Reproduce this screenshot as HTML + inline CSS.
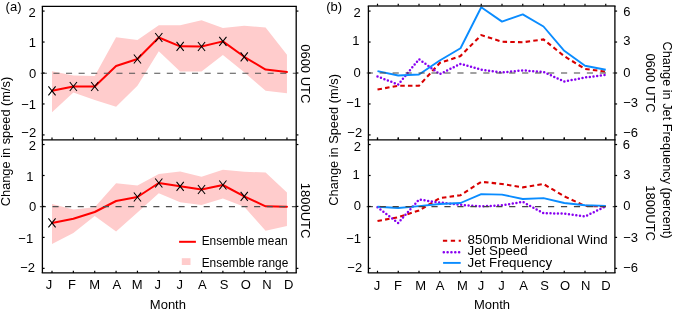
<!DOCTYPE html>
<html><head><meta charset="utf-8"><style>
html,body{margin:0;padding:0;background:#fff;width:675px;height:313px;overflow:hidden}
svg{display:block;will-change:transform}
text{font-family:"Liberation Sans", sans-serif;fill:#000}
</style></head><body>
<svg width="675" height="313" viewBox="0 0 675 313">
<rect width="675" height="313" fill="#fff"/>
<polygon fill="#ffcccc" points="52.00,71.20 73.36,75.50 94.72,76.00 116.08,37.20 137.44,40.00 158.80,25.20 180.16,25.20 201.52,20.20 222.88,27.90 244.24,25.80 265.60,27.40 286.96,54.80 286.96,93.20 265.60,90.70 244.24,72.30 222.88,55.00 201.52,71.40 180.16,71.40 158.80,51.30 137.44,85.80 116.08,106.70 94.72,100.00 73.36,92.60 52.00,112.30"/>
<polyline fill="none" stroke="#ff0000" stroke-width="2" stroke-linejoin="round" stroke-linecap="round" points="52.00,90.80 73.36,86.50 94.72,86.50 116.08,66.00 137.44,59.00 158.80,37.50 180.16,46.30 201.52,46.50 222.88,41.40 244.24,56.80 265.60,69.60 286.96,72.00"/>
<line x1="40.8" y1="73.2" x2="296.2" y2="73.2" stroke="#505050" stroke-width="1.1" stroke-dasharray="6.1 6.5"/>
<path d="M48.40 86.30L55.60 95.30M48.40 95.30L55.60 86.30" stroke="#000" stroke-width="1.05"/>
<path d="M69.76 82.00L76.96 91.00M69.76 91.00L76.96 82.00" stroke="#000" stroke-width="1.05"/>
<path d="M91.12 82.00L98.32 91.00M91.12 91.00L98.32 82.00" stroke="#000" stroke-width="1.05"/>
<path d="M133.84 54.50L141.04 63.50M133.84 63.50L141.04 54.50" stroke="#000" stroke-width="1.05"/>
<path d="M155.20 33.00L162.40 42.00M155.20 42.00L162.40 33.00" stroke="#000" stroke-width="1.05"/>
<path d="M176.56 41.80L183.76 50.80M176.56 50.80L183.76 41.80" stroke="#000" stroke-width="1.05"/>
<path d="M197.92 42.00L205.12 51.00M197.92 51.00L205.12 42.00" stroke="#000" stroke-width="1.05"/>
<path d="M219.28 36.90L226.48 45.90M219.28 45.90L226.48 36.90" stroke="#000" stroke-width="1.05"/>
<path d="M240.64 52.30L247.84 61.30M240.64 61.30L247.84 52.30" stroke="#000" stroke-width="1.05"/>
<line x1="42.40" y1="11.08" x2="44.60" y2="11.08" stroke="#000" stroke-width="1.2"/>
<line x1="296.20" y1="11.08" x2="298.40" y2="11.08" stroke="#000" stroke-width="1.2"/>
<line x1="42.40" y1="42.04" x2="44.60" y2="42.04" stroke="#000" stroke-width="1.2"/>
<line x1="42.40" y1="73.00" x2="44.60" y2="73.00" stroke="#000" stroke-width="1.2"/>
<line x1="296.20" y1="73.00" x2="298.40" y2="73.00" stroke="#000" stroke-width="1.2"/>
<line x1="42.40" y1="103.96" x2="44.60" y2="103.96" stroke="#000" stroke-width="1.2"/>
<line x1="42.40" y1="134.92" x2="44.60" y2="134.92" stroke="#000" stroke-width="1.2"/>
<line x1="296.20" y1="134.92" x2="298.40" y2="134.92" stroke="#000" stroke-width="1.2"/>
<line x1="52.00" y1="139.80" x2="52.00" y2="137.60" stroke="#000" stroke-width="1.2"/>
<line x1="73.36" y1="139.80" x2="73.36" y2="137.60" stroke="#000" stroke-width="1.2"/>
<line x1="94.72" y1="139.80" x2="94.72" y2="137.60" stroke="#000" stroke-width="1.2"/>
<line x1="116.08" y1="139.80" x2="116.08" y2="137.60" stroke="#000" stroke-width="1.2"/>
<line x1="137.44" y1="139.80" x2="137.44" y2="137.60" stroke="#000" stroke-width="1.2"/>
<line x1="158.80" y1="139.80" x2="158.80" y2="137.60" stroke="#000" stroke-width="1.2"/>
<line x1="180.16" y1="139.80" x2="180.16" y2="137.60" stroke="#000" stroke-width="1.2"/>
<line x1="201.52" y1="139.80" x2="201.52" y2="137.60" stroke="#000" stroke-width="1.2"/>
<line x1="222.88" y1="139.80" x2="222.88" y2="137.60" stroke="#000" stroke-width="1.2"/>
<line x1="244.24" y1="139.80" x2="244.24" y2="137.60" stroke="#000" stroke-width="1.2"/>
<line x1="265.60" y1="139.80" x2="265.60" y2="137.60" stroke="#000" stroke-width="1.2"/>
<line x1="286.96" y1="139.80" x2="286.96" y2="137.60" stroke="#000" stroke-width="1.2"/>
<polygon fill="#ffcccc" points="52.00,204.00 73.36,209.60 94.72,207.20 116.08,183.20 137.44,185.60 158.80,174.10 180.16,171.60 201.52,176.70 222.88,169.80 244.24,171.70 265.60,172.50 286.96,192.40 286.96,226.00 265.60,230.70 244.24,206.80 222.88,198.60 201.52,204.90 180.16,202.30 158.80,193.20 137.44,212.40 116.08,231.50 94.72,216.00 73.36,232.90 52.00,244.00"/>
<polyline fill="none" stroke="#ff0000" stroke-width="2" stroke-linejoin="round" stroke-linecap="round" points="52.00,222.90 73.36,218.80 94.72,212.00 116.08,201.00 137.44,197.00 158.80,183.00 180.16,186.30 201.52,189.50 222.88,185.00 244.24,196.30 265.60,206.30 286.96,206.80"/>
<line x1="39.9" y1="206.6" x2="296.2" y2="206.6" stroke="#505050" stroke-width="1.1" stroke-dasharray="6.1 6.5"/>
<path d="M48.40 218.40L55.60 227.40M48.40 227.40L55.60 218.40" stroke="#000" stroke-width="1.05"/>
<path d="M133.84 192.50L141.04 201.50M133.84 201.50L141.04 192.50" stroke="#000" stroke-width="1.05"/>
<path d="M155.20 178.50L162.40 187.50M155.20 187.50L162.40 178.50" stroke="#000" stroke-width="1.05"/>
<path d="M176.56 181.80L183.76 190.80M176.56 190.80L183.76 181.80" stroke="#000" stroke-width="1.05"/>
<path d="M197.92 185.00L205.12 194.00M197.92 194.00L205.12 185.00" stroke="#000" stroke-width="1.05"/>
<path d="M219.28 180.50L226.48 189.50M219.28 189.50L226.48 180.50" stroke="#000" stroke-width="1.05"/>
<path d="M240.64 191.80L247.84 200.80M240.64 200.80L247.84 191.80" stroke="#000" stroke-width="1.05"/>
<line x1="42.40" y1="144.53" x2="44.60" y2="144.53" stroke="#000" stroke-width="1.2"/>
<line x1="296.20" y1="144.53" x2="298.40" y2="144.53" stroke="#000" stroke-width="1.2"/>
<line x1="42.40" y1="175.49" x2="44.60" y2="175.49" stroke="#000" stroke-width="1.2"/>
<line x1="42.40" y1="206.45" x2="44.60" y2="206.45" stroke="#000" stroke-width="1.2"/>
<line x1="296.20" y1="206.45" x2="298.40" y2="206.45" stroke="#000" stroke-width="1.2"/>
<line x1="42.40" y1="237.41" x2="44.60" y2="237.41" stroke="#000" stroke-width="1.2"/>
<line x1="42.40" y1="268.37" x2="44.60" y2="268.37" stroke="#000" stroke-width="1.2"/>
<line x1="296.20" y1="268.37" x2="298.40" y2="268.37" stroke="#000" stroke-width="1.2"/>
<line x1="52.00" y1="272.90" x2="52.00" y2="270.70" stroke="#000" stroke-width="1.2"/>
<line x1="73.36" y1="272.90" x2="73.36" y2="270.70" stroke="#000" stroke-width="1.2"/>
<line x1="94.72" y1="272.90" x2="94.72" y2="270.70" stroke="#000" stroke-width="1.2"/>
<line x1="116.08" y1="272.90" x2="116.08" y2="270.70" stroke="#000" stroke-width="1.2"/>
<line x1="137.44" y1="272.90" x2="137.44" y2="270.70" stroke="#000" stroke-width="1.2"/>
<line x1="158.80" y1="272.90" x2="158.80" y2="270.70" stroke="#000" stroke-width="1.2"/>
<line x1="180.16" y1="272.90" x2="180.16" y2="270.70" stroke="#000" stroke-width="1.2"/>
<line x1="201.52" y1="272.90" x2="201.52" y2="270.70" stroke="#000" stroke-width="1.2"/>
<line x1="222.88" y1="272.90" x2="222.88" y2="270.70" stroke="#000" stroke-width="1.2"/>
<line x1="244.24" y1="272.90" x2="244.24" y2="270.70" stroke="#000" stroke-width="1.2"/>
<line x1="265.60" y1="272.90" x2="265.60" y2="270.70" stroke="#000" stroke-width="1.2"/>
<line x1="286.96" y1="272.90" x2="286.96" y2="270.70" stroke="#000" stroke-width="1.2"/>
<line x1="41.75" y1="6.40" x2="296.85" y2="6.40" stroke="#000" stroke-width="1.3"/>
<line x1="41.75" y1="139.80" x2="296.85" y2="139.80" stroke="#000" stroke-width="1.3"/>
<line x1="41.75" y1="272.90" x2="296.85" y2="272.90" stroke="#000" stroke-width="1.3"/>
<line x1="42.40" y1="6.40" x2="42.40" y2="272.90" stroke="#000" stroke-width="1.3"/>
<line x1="296.20" y1="6.40" x2="296.20" y2="272.90" stroke="#000" stroke-width="1.3"/>
<polyline fill="none" stroke="#d80000" stroke-width="2.1" stroke-dasharray="4.5 3.2" points="377.50,89.50 398.25,85.70 419.00,85.70 439.75,63.00 460.50,56.00 481.25,35.10 502.00,41.70 522.75,42.30 543.50,39.40 564.25,56.20 585.00,68.90 605.75,71.60"/>
<polyline fill="none" stroke="#8800f0" stroke-width="2.5" stroke-linecap="round" stroke-dasharray="0 3.7" points="377.50,76.50 398.25,84.50 419.00,59.20 439.75,74.20 460.50,63.80 481.25,69.60 502.00,72.50 522.75,70.40 543.50,71.90 564.25,81.50 585.00,77.50 605.75,74.90"/>
<polyline fill="none" stroke="#0a8cff" stroke-width="1.9" stroke-linejoin="round" points="377.50,71.10 398.25,75.50 419.00,74.50 439.75,60.50 460.50,48.30 481.25,7.20 502.00,21.60 522.75,14.40 543.50,26.50 564.25,50.80 585.00,65.80 605.75,69.70"/>
<line x1="366.7" y1="73.05" x2="614.9" y2="73.05" stroke="#444" stroke-width="1.1" stroke-dasharray="6.2 6.75"/>
<line x1="368.40" y1="11.08" x2="370.60" y2="11.08" stroke="#000" stroke-width="1.2"/>
<line x1="614.90" y1="11.08" x2="617.10" y2="11.08" stroke="#000" stroke-width="1.2"/>
<line x1="368.40" y1="42.04" x2="370.60" y2="42.04" stroke="#000" stroke-width="1.2"/>
<line x1="614.90" y1="42.04" x2="617.10" y2="42.04" stroke="#000" stroke-width="1.2"/>
<line x1="368.40" y1="73.00" x2="370.60" y2="73.00" stroke="#000" stroke-width="1.2"/>
<line x1="614.90" y1="73.00" x2="617.10" y2="73.00" stroke="#000" stroke-width="1.2"/>
<line x1="368.40" y1="103.96" x2="370.60" y2="103.96" stroke="#000" stroke-width="1.2"/>
<line x1="614.90" y1="103.96" x2="617.10" y2="103.96" stroke="#000" stroke-width="1.2"/>
<line x1="368.40" y1="134.92" x2="370.60" y2="134.92" stroke="#000" stroke-width="1.2"/>
<line x1="614.90" y1="134.92" x2="617.10" y2="134.92" stroke="#000" stroke-width="1.2"/>
<line x1="377.50" y1="139.80" x2="377.50" y2="137.60" stroke="#000" stroke-width="1.2"/>
<line x1="377.50" y1="5.90" x2="377.50" y2="3.70" stroke="#000" stroke-width="1.2"/>
<line x1="398.25" y1="139.80" x2="398.25" y2="137.60" stroke="#000" stroke-width="1.2"/>
<line x1="398.25" y1="5.90" x2="398.25" y2="3.70" stroke="#000" stroke-width="1.2"/>
<line x1="419.00" y1="139.80" x2="419.00" y2="137.60" stroke="#000" stroke-width="1.2"/>
<line x1="419.00" y1="5.90" x2="419.00" y2="3.70" stroke="#000" stroke-width="1.2"/>
<line x1="439.75" y1="139.80" x2="439.75" y2="137.60" stroke="#000" stroke-width="1.2"/>
<line x1="439.75" y1="5.90" x2="439.75" y2="3.70" stroke="#000" stroke-width="1.2"/>
<line x1="460.50" y1="139.80" x2="460.50" y2="137.60" stroke="#000" stroke-width="1.2"/>
<line x1="460.50" y1="5.90" x2="460.50" y2="3.70" stroke="#000" stroke-width="1.2"/>
<line x1="481.25" y1="139.80" x2="481.25" y2="137.60" stroke="#000" stroke-width="1.2"/>
<line x1="481.25" y1="5.90" x2="481.25" y2="3.70" stroke="#000" stroke-width="1.2"/>
<line x1="502.00" y1="139.80" x2="502.00" y2="137.60" stroke="#000" stroke-width="1.2"/>
<line x1="502.00" y1="5.90" x2="502.00" y2="3.70" stroke="#000" stroke-width="1.2"/>
<line x1="522.75" y1="139.80" x2="522.75" y2="137.60" stroke="#000" stroke-width="1.2"/>
<line x1="522.75" y1="5.90" x2="522.75" y2="3.70" stroke="#000" stroke-width="1.2"/>
<line x1="543.50" y1="139.80" x2="543.50" y2="137.60" stroke="#000" stroke-width="1.2"/>
<line x1="543.50" y1="5.90" x2="543.50" y2="3.70" stroke="#000" stroke-width="1.2"/>
<line x1="564.25" y1="139.80" x2="564.25" y2="137.60" stroke="#000" stroke-width="1.2"/>
<line x1="564.25" y1="5.90" x2="564.25" y2="3.70" stroke="#000" stroke-width="1.2"/>
<line x1="585.00" y1="139.80" x2="585.00" y2="137.60" stroke="#000" stroke-width="1.2"/>
<line x1="585.00" y1="5.90" x2="585.00" y2="3.70" stroke="#000" stroke-width="1.2"/>
<line x1="605.75" y1="139.80" x2="605.75" y2="137.60" stroke="#000" stroke-width="1.2"/>
<line x1="605.75" y1="5.90" x2="605.75" y2="3.70" stroke="#000" stroke-width="1.2"/>
<polyline fill="none" stroke="#d80000" stroke-width="2.1" stroke-dasharray="4.5 3.2" points="377.50,221.00 398.25,217.20 419.00,210.50 439.75,198.10 460.50,195.20 481.25,181.80 502.00,184.00 522.75,187.40 543.50,184.00 564.25,196.30 585.00,205.90 605.75,206.40"/>
<polyline fill="none" stroke="#8800f0" stroke-width="2.5" stroke-linecap="round" stroke-dasharray="0 3.7" points="377.50,207.20 398.25,223.00 419.00,199.60 439.75,202.50 460.50,204.80 481.25,206.40 502.00,205.30 522.75,201.90 543.50,213.10 564.25,213.70 585.00,216.40 605.75,206.40"/>
<polyline fill="none" stroke="#0a8cff" stroke-width="1.9" stroke-linejoin="round" points="377.50,206.70 398.25,208.00 419.00,206.10 439.75,204.00 460.50,203.00 481.25,194.10 502.00,194.60 522.75,199.00 543.50,198.10 564.25,203.00 585.00,205.20 605.75,205.90"/>
<line x1="366.7" y1="206.6" x2="614.9" y2="206.6" stroke="#444" stroke-width="1.1" stroke-dasharray="6.2 6.75"/>
<line x1="368.40" y1="144.53" x2="370.60" y2="144.53" stroke="#000" stroke-width="1.2"/>
<line x1="614.90" y1="144.53" x2="617.10" y2="144.53" stroke="#000" stroke-width="1.2"/>
<line x1="368.40" y1="175.49" x2="370.60" y2="175.49" stroke="#000" stroke-width="1.2"/>
<line x1="614.90" y1="175.49" x2="617.10" y2="175.49" stroke="#000" stroke-width="1.2"/>
<line x1="368.40" y1="206.45" x2="370.60" y2="206.45" stroke="#000" stroke-width="1.2"/>
<line x1="614.90" y1="206.45" x2="617.10" y2="206.45" stroke="#000" stroke-width="1.2"/>
<line x1="368.40" y1="237.41" x2="370.60" y2="237.41" stroke="#000" stroke-width="1.2"/>
<line x1="614.90" y1="237.41" x2="617.10" y2="237.41" stroke="#000" stroke-width="1.2"/>
<line x1="368.40" y1="268.37" x2="370.60" y2="268.37" stroke="#000" stroke-width="1.2"/>
<line x1="614.90" y1="268.37" x2="617.10" y2="268.37" stroke="#000" stroke-width="1.2"/>
<line x1="377.50" y1="272.90" x2="377.50" y2="270.70" stroke="#000" stroke-width="1.2"/>
<line x1="377.50" y1="139.80" x2="377.50" y2="137.60" stroke="#000" stroke-width="1.2"/>
<line x1="398.25" y1="272.90" x2="398.25" y2="270.70" stroke="#000" stroke-width="1.2"/>
<line x1="398.25" y1="139.80" x2="398.25" y2="137.60" stroke="#000" stroke-width="1.2"/>
<line x1="419.00" y1="272.90" x2="419.00" y2="270.70" stroke="#000" stroke-width="1.2"/>
<line x1="419.00" y1="139.80" x2="419.00" y2="137.60" stroke="#000" stroke-width="1.2"/>
<line x1="439.75" y1="272.90" x2="439.75" y2="270.70" stroke="#000" stroke-width="1.2"/>
<line x1="439.75" y1="139.80" x2="439.75" y2="137.60" stroke="#000" stroke-width="1.2"/>
<line x1="460.50" y1="272.90" x2="460.50" y2="270.70" stroke="#000" stroke-width="1.2"/>
<line x1="460.50" y1="139.80" x2="460.50" y2="137.60" stroke="#000" stroke-width="1.2"/>
<line x1="481.25" y1="272.90" x2="481.25" y2="270.70" stroke="#000" stroke-width="1.2"/>
<line x1="481.25" y1="139.80" x2="481.25" y2="137.60" stroke="#000" stroke-width="1.2"/>
<line x1="502.00" y1="272.90" x2="502.00" y2="270.70" stroke="#000" stroke-width="1.2"/>
<line x1="502.00" y1="139.80" x2="502.00" y2="137.60" stroke="#000" stroke-width="1.2"/>
<line x1="522.75" y1="272.90" x2="522.75" y2="270.70" stroke="#000" stroke-width="1.2"/>
<line x1="522.75" y1="139.80" x2="522.75" y2="137.60" stroke="#000" stroke-width="1.2"/>
<line x1="543.50" y1="272.90" x2="543.50" y2="270.70" stroke="#000" stroke-width="1.2"/>
<line x1="543.50" y1="139.80" x2="543.50" y2="137.60" stroke="#000" stroke-width="1.2"/>
<line x1="564.25" y1="272.90" x2="564.25" y2="270.70" stroke="#000" stroke-width="1.2"/>
<line x1="564.25" y1="139.80" x2="564.25" y2="137.60" stroke="#000" stroke-width="1.2"/>
<line x1="585.00" y1="272.90" x2="585.00" y2="270.70" stroke="#000" stroke-width="1.2"/>
<line x1="585.00" y1="139.80" x2="585.00" y2="137.60" stroke="#000" stroke-width="1.2"/>
<line x1="605.75" y1="272.90" x2="605.75" y2="270.70" stroke="#000" stroke-width="1.2"/>
<line x1="605.75" y1="139.80" x2="605.75" y2="137.60" stroke="#000" stroke-width="1.2"/>
<line x1="367.75" y1="5.90" x2="615.55" y2="5.90" stroke="#222" stroke-width="1.5"/>
<line x1="367.75" y1="139.80" x2="615.55" y2="139.80" stroke="#000" stroke-width="1.3"/>
<line x1="367.75" y1="272.90" x2="615.55" y2="272.90" stroke="#000" stroke-width="1.3"/>
<line x1="368.40" y1="5.90" x2="368.40" y2="272.90" stroke="#000" stroke-width="1.3"/>
<line x1="614.90" y1="5.90" x2="614.90" y2="272.90" stroke="#000" stroke-width="1.3"/>
<text x="35.80" y="17.00" font-size="13" text-anchor="end">2</text>
<text x="36.00" y="47.20" font-size="13" text-anchor="end">1</text>
<text x="36.20" y="78.10" font-size="13" text-anchor="end">0</text>
<text x="36.00" y="109.40" font-size="13" text-anchor="end">−1</text>
<text x="36.20" y="136.70" font-size="13" text-anchor="end">−2</text>
<text x="35.90" y="150.00" font-size="13" text-anchor="end">2</text>
<text x="33.60" y="181.20" font-size="13" text-anchor="end">1</text>
<text x="36.20" y="210.70" font-size="13" text-anchor="end">0</text>
<text x="33.20" y="243.40" font-size="13" text-anchor="end">−1</text>
<text x="35.10" y="272.20" font-size="13" text-anchor="end">−2</text>
<text x="360.80" y="16.70" font-size="13" text-anchor="end">2</text>
<text x="359.40" y="45.20" font-size="13" text-anchor="end">1</text>
<text x="360.80" y="76.50" font-size="13" text-anchor="end">0</text>
<text x="361.00" y="107.10" font-size="13" text-anchor="end">−1</text>
<text x="362.20" y="136.50" font-size="13" text-anchor="end">−2</text>
<text x="361.00" y="150.60" font-size="13" text-anchor="end">2</text>
<text x="359.70" y="179.10" font-size="13" text-anchor="end">1</text>
<text x="361.00" y="210.20" font-size="13" text-anchor="end">0</text>
<text x="361.00" y="242.80" font-size="13" text-anchor="end">−1</text>
<text x="362.20" y="272.40" font-size="13" text-anchor="end">−2</text>
<text x="623.20" y="15.70" font-size="13" text-anchor="start">6</text>
<text x="623.20" y="45.20" font-size="13" text-anchor="start">3</text>
<text x="623.20" y="76.50" font-size="13" text-anchor="start">0</text>
<text x="623.20" y="107.00" font-size="13" text-anchor="start">−3</text>
<text x="623.20" y="137.10" font-size="13" text-anchor="start">−6</text>
<text x="622.80" y="149.00" font-size="13" text-anchor="start">6</text>
<text x="623.20" y="178.90" font-size="13" text-anchor="start">3</text>
<text x="623.20" y="210.20" font-size="13" text-anchor="start">0</text>
<text x="623.20" y="242.30" font-size="13" text-anchor="start">−3</text>
<text x="623.20" y="272.30" font-size="13" text-anchor="start">−6</text>
<text x="49.10" y="289.0" font-size="13" text-anchor="middle">J</text>
<text x="376.90" y="289.8" font-size="13" text-anchor="middle">J</text>
<text x="71.90" y="289.0" font-size="13" text-anchor="middle">F</text>
<text x="397.90" y="289.8" font-size="13" text-anchor="middle">F</text>
<text x="94.65" y="289.0" font-size="13" text-anchor="middle">M</text>
<text x="420.70" y="289.8" font-size="13" text-anchor="middle">M</text>
<text x="116.90" y="289.0" font-size="13" text-anchor="middle">A</text>
<text x="440.00" y="289.8" font-size="13" text-anchor="middle">A</text>
<text x="137.15" y="289.0" font-size="13" text-anchor="middle">M</text>
<text x="462.50" y="289.8" font-size="13" text-anchor="middle">M</text>
<text x="157.70" y="289.0" font-size="13" text-anchor="middle">J</text>
<text x="480.90" y="289.8" font-size="13" text-anchor="middle">J</text>
<text x="179.65" y="289.0" font-size="13" text-anchor="middle">J</text>
<text x="501.60" y="289.8" font-size="13" text-anchor="middle">J</text>
<text x="202.30" y="289.0" font-size="13" text-anchor="middle">A</text>
<text x="523.60" y="289.8" font-size="13" text-anchor="middle">A</text>
<text x="224.05" y="289.0" font-size="13" text-anchor="middle">S</text>
<text x="544.50" y="289.8" font-size="13" text-anchor="middle">S</text>
<text x="245.75" y="289.0" font-size="13" text-anchor="middle">O</text>
<text x="565.00" y="289.8" font-size="13" text-anchor="middle">O</text>
<text x="266.95" y="289.0" font-size="13" text-anchor="middle">N</text>
<text x="585.70" y="289.8" font-size="13" text-anchor="middle">N</text>
<text x="288.65" y="289.0" font-size="13" text-anchor="middle">D</text>
<text x="606.00" y="289.8" font-size="13" text-anchor="middle">D</text>
<text x="167.9" y="309" font-size="13" text-anchor="middle">Month</text>
<text x="492.0" y="309" font-size="13" text-anchor="middle">Month</text>
<text x="5.6" y="10.6" font-size="13" text-anchor="start">(a)</text>
<text x="326.2" y="10.6" font-size="13" text-anchor="start">(b)</text>
<text x="10.3" y="141.5" font-size="12.8" text-anchor="middle" transform="rotate(-90 10.3 141.5)">Change in speed (m/s)</text>
<text x="338.3" y="139.9" font-size="12.8" text-anchor="middle" transform="rotate(-90 338.3 139.9)">Change in Speed (m/s)</text>
<text x="300.5" y="73.8" font-size="13" text-anchor="middle" transform="rotate(90 300.5 73.8)">0600 UTC</text>
<text x="300.5" y="210.6" font-size="13" text-anchor="middle" transform="rotate(90 300.5 210.6)">1800UTC</text>
<text x="646" y="83" font-size="13" text-anchor="middle" transform="rotate(90 646 83)">0600 UTC</text>
<text x="646" y="213.2" font-size="13" text-anchor="middle" transform="rotate(90 646 213.2)">1800UTC</text>
<text x="663.4" y="140.1" font-size="12.75" text-anchor="middle" transform="rotate(90 663.4 140.1)">Change in Jet Frequency (percent)</text>
<line x1="179.1" y1="241.8" x2="195.9" y2="241.8" stroke="#ff0000" stroke-width="2"/>
<rect x="181.8" y="258.2" width="8.7" height="6.8" fill="#ffcccc"/>
<text x="201.7" y="245.2" font-size="11.9" text-anchor="start">Ensemble mean</text>
<text x="201.7" y="267.4" font-size="11.9" text-anchor="start">Ensemble range</text>
<line x1="442.9" y1="240.8" x2="460.9" y2="240.8" stroke="#d80000" stroke-width="2.1" stroke-dasharray="4.3 3.6"/>
<line x1="443.8" y1="252.2" x2="460" y2="252.2" stroke="#8800f0" stroke-width="2.6" stroke-linecap="round" stroke-dasharray="0 3.83"/>
<line x1="443.1" y1="262.9" x2="460.7" y2="262.9" stroke="#0a8cff" stroke-width="1.9"/>
<text x="467.6" y="243.7" font-size="13.35" text-anchor="start">850mb Meridional Wind</text>
<text x="467.6" y="255.3" font-size="13.35" text-anchor="start">Jet Speed</text>
<text x="467.6" y="267.0" font-size="13.35" text-anchor="start">Jet Frequency</text>
</svg>
</body></html>
